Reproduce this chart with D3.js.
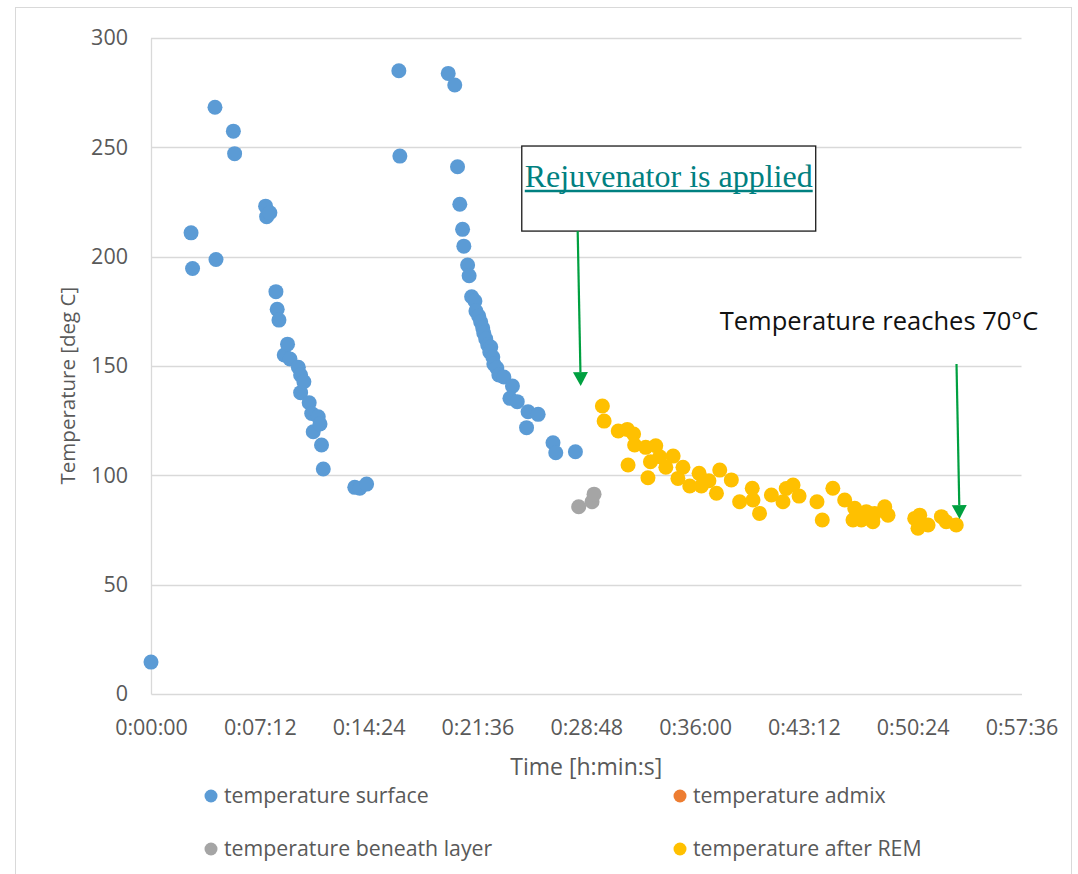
<!DOCTYPE html>
<html>
<head>
<meta charset="utf-8">
<script src="https://cdn.jsdelivr.net/npm/d3@7"></script>
<style>
  body { margin: 0; background: #fff; }
  svg text { font-family: "Open Sans", sans-serif; }
</style>
</head>
<body>
<div id="chart"></div>
<script>
// time in seconds, temperature in deg C
const surfaceData = [
  [0, 14.6], [159, 210.9], [165, 194.6], [254, 268.3], [258, 198.7],
  [327, 257.4], [332, 247.1], [455, 223.1], [459, 218.3], [472, 220.1],
  [496, 184.0], [501, 175.9], [508, 171.0], [529, 155.0], [542, 160.0],
  [552, 153.2], [585, 149.4], [594, 145.9], [594, 137.8], [607, 142.8],
  [628, 133.2], [638, 128.3], [644, 119.9], [664, 126.8], [671, 123.5],
  [677, 113.9], [684, 102.9], [809, 94.5], [829, 94.1], [856, 96.0],
  [984, 285.0], [988, 246.0], [1180, 283.8], [1206, 278.5], [1217, 241.1],
  [1226, 224.0], [1237, 212.5], [1242, 204.8], [1257, 196.2], [1263, 191.3],
  [1273, 181.7], [1286, 179.7], [1290, 175.1], [1301, 172.8], [1309, 170.1],
  [1317, 167.4], [1321, 165.1], [1329, 162.4], [1337, 159.6], [1349, 158.7],
  [1345, 156.4], [1357, 154.1], [1361, 150.9], [1373, 149.1], [1381, 145.9],
  [1401, 145.0], [1435, 140.8], [1425, 135.2], [1454, 133.7], [1497, 129.1],
  [1537, 127.9], [1491, 121.8], [1596, 114.9], [1607, 110.3], [1685, 110.8]
];
const admixData = [];
const beneathData = [[1698, 85.6], [1751, 87.9], [1759, 91.4]];
const afterRemData = [
  [1792, 131.7], [1799, 124.8], [1855, 120.3], [1891, 121.0], [1916, 118.9],
  [1920, 113.9], [1964, 112.8], [2004, 113.5], [1894, 104.7], [1983, 106.2],
  [2020, 108.5], [1973, 98.9], [2073, 108.8], [2044, 103.7], [2112, 103.7],
  [2092, 98.6], [2139, 95.1], [2176, 100.9], [2185, 95.1], [2215, 97.5],
  [2245, 91.8], [2258, 102.4], [2304, 97.9], [2337, 87.9], [2387, 94.1],
  [2390, 88.7], [2416, 82.6], [2463, 91.0], [2509, 87.9], [2522, 94.0],
  [2549, 95.6], [2573, 90.5], [2644, 87.9], [2665, 79.6], [2707, 94.1],
  [2754, 88.7], [2794, 84.9], [2787, 79.6], [2820, 79.6], [2840, 83.4],
  [2866, 78.8], [2873, 82.6], [2913, 85.6], [2926, 81.8], [3032, 80.3],
  [3052, 81.8], [3045, 75.8], [3085, 77.3], [3138, 81.1], [3157, 78.8],
  [3197, 77.3]
];

const seriesNames = ["temperature surface", "temperature admix", "temperature beneath layer", "temperature after REM"];
const seriesColors = ["#5B9BD5", "#ED7D31", "#A5A5A5", "#FFC000"];
const xTicks = [0, 432, 864, 1296, 1728, 2160, 2592, 3024, 3456];
const yTicks = [0, 50, 100, 150, 200, 250, 300];

const width = 1078, height = 874;
const margin = { left: 151, right: 56, top: 38, bottom: 180 };

const svg = d3.select("#chart").append("svg")
  .attr("width", width)
  .attr("height", height);

// outer chart border
svg.append("rect")
  .attr("x", 15.5).attr("y", 7.5)
  .attr("width", 1056).attr("height", 900)
  .attr("fill", "none")
  .attr("stroke", "#d9d9d9");

const x = d3.scaleLinear().domain([0, 3456]).range([margin.left, width - margin.right - 0.5]);
const y = d3.scaleLinear().domain([0, 300]).range([height - margin.bottom, margin.top]);

const fmtTime = s => {
  const h = Math.floor(s / 3600), m = Math.floor((s % 3600) / 60), sec = s % 60;
  return `${h}:${String(m).padStart(2, "0")}:${String(sec).padStart(2, "0")}`;
};

// gridlines
svg.append("g")
  .selectAll("line")
  .data(yTicks.filter(d => d > 0))
  .enter().append("line")
  .attr("x1", x(0)).attr("x2", x(3456))
  .attr("y1", d => Math.round(y(d)) + 0.5).attr("y2", d => Math.round(y(d)) + 0.5)
  .attr("stroke", "#d9d9d9").attr("stroke-width", 1.3);

// axes
const yAxis = svg.append("g")
  .attr("transform", `translate(${x(0)},0)`)
  .call(d3.axisLeft(y).tickValues(yTicks).tickSize(0).tickPadding(23));
const xAxis = svg.append("g")
  .attr("transform", `translate(0,${y(0)})`)
  .call(d3.axisBottom(x).tickValues(xTicks).tickFormat(fmtTime).tickSize(0).tickPadding(26));

[xAxis, yAxis].forEach(g => {
  g.select(".domain").attr("stroke", "#d9d9d9").attr("stroke-width", 1.3);
  g.selectAll("text")
    .attr("fill", "#595959")
    .style("font-size", "21.5px")
    .style("font-family", "'Open Sans', sans-serif");
});

// axis titles
svg.append("text")
  .attr("transform", `translate(75,${y(141)}) rotate(-90)`)
  .attr("text-anchor", "middle")
  .attr("fill", "#595959")
  .style("font-size", "20.5px")
  .text("Temperature [deg C]");

svg.append("text")
  .attr("x", (x(0) + x(3456)) / 2).attr("y", 775)
  .attr("text-anchor", "middle")
  .attr("fill", "#595959")
  .style("font-size", "23px")
  .text("Time [h:min:s]");

// points
const allSeries = [surfaceData, admixData, beneathData, afterRemData];
allSeries.forEach((data, i) => {
  svg.append("g")
    .selectAll("circle")
    .data(data)
    .enter().append("circle")
    .attr("cx", d => x(d[0]))
    .attr("cy", d => y(d[1]))
    .attr("r", 7.5)
    .attr("fill", seriesColors[i]);
});

// annotation: rejuvenator box
const boxT = [1472, 2639], boxY = [250.6, 211.7];
svg.append("rect")
  .attr("x", x(boxT[0])).attr("y", y(boxY[0]))
  .attr("width", x(boxT[1]) - x(boxT[0]))
  .attr("height", y(boxY[1]) - y(boxY[0]))
  .attr("fill", "#fff")
  .attr("stroke", "#1a1a1a")
  .attr("stroke-width", 1.3);

const boxCx = (x(boxT[0]) + x(boxT[1])) / 2;
const rejText = svg.append("text")
  .attr("x", boxCx)
  .attr("y", y(boxY[0]) + 41)
  .attr("text-anchor", "middle")
  .attr("fill", "#008080")
  .style("font-family", "'Liberation Serif', 'Times New Roman', serif")
  .style("font-size", "32px")
  .text("Rejuvenator is applied");
const rejLen = rejText.node().getComputedTextLength();
svg.append("line")
  .attr("x1", boxCx - rejLen / 2).attr("x2", boxCx + rejLen / 2)
  .attr("y1", y(boxY[0]) + 45).attr("y2", y(boxY[0]) + 45)
  .attr("stroke", "#008080").attr("stroke-width", 2.5);

// arrows
function arrow(t1, v1, t2, v2) {
  const x1 = x(t1), y1 = y(v1), x2 = x(t2), y2 = y(v2);
  const ang = Math.atan2(y2 - y1, x2 - x1);
  const len = 14, half = 7.5;
  const bx = x2 - len * Math.cos(ang), by = y2 - len * Math.sin(ang);
  svg.append("line")
    .attr("x1", x1).attr("y1", y1).attr("x2", bx).attr("y2", by)
    .attr("stroke", "#00A040").attr("stroke-width", 2.2);
  const px = -Math.sin(ang), py = Math.cos(ang);
  svg.append("path")
    .attr("d", `M${x2},${y2}L${bx + px * half},${by + py * half}L${bx - px * half},${by - py * half}Z`)
    .attr("fill", "#00A040");
}
arrow(1694, 211.7, 1706, 140.8);
arrow(3198, 150.9, 3210, 80);

svg.append("text")
  .attr("x", x(2258)).attr("y", y(166.4))
  .attr("fill", "#111")
  .style("font-size", "25.5px")
  .text("Temperature reaches 70°C");

// legend
const legendPos = [[211, 796], [680, 796], [211, 849], [680, 849]];
const legend = svg.append("g");
legend.selectAll("circle")
  .data(seriesNames)
  .enter().append("circle")
  .attr("cx", (d, i) => legendPos[i][0])
  .attr("cy", (d, i) => legendPos[i][1])
  .attr("r", 6.5)
  .attr("fill", (d, i) => seriesColors[i]);
legend.selectAll("text")
  .data(seriesNames)
  .enter().append("text")
  .attr("x", (d, i) => legendPos[i][0] + 13)
  .attr("y", (d, i) => legendPos[i][1])
  .attr("dy", "0.35em")
  .attr("fill", "#595959")
  .style("font-size", "21.3px")
  .text(d => d);
</script>
</body>
</html>
